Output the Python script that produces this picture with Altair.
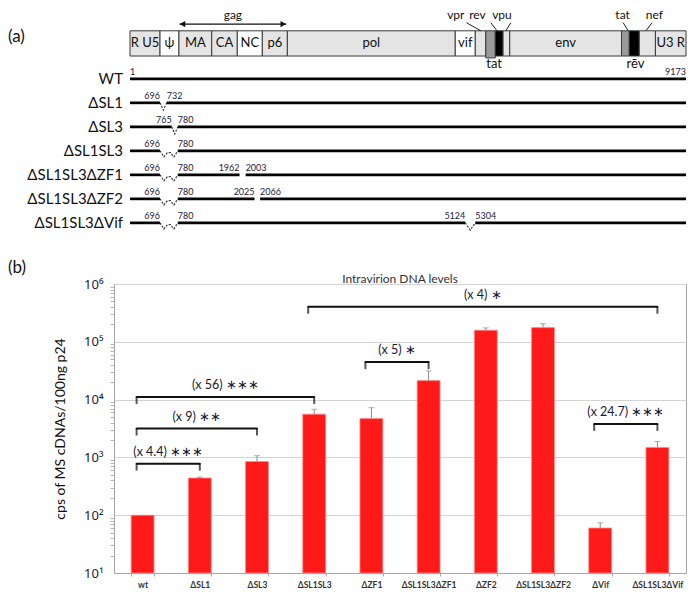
import altair as alt
import pandas as pd

# ---------------- panel (a): genome map (schematic map units 0-100) ----------------
segment_labels = ["R U5", "ψ", "MA", "CA", "NC", "p6", "pol", "vif", "", "", "", "", "env", "", "", "", "U3 R"]
segment_kinds = ["light", "white", "light", "light", "white", "light", "light", "white",
                 "light", "tat", "rev", "light", "light", "tat", "rev", "light", "light"]
segment_edges = [0, 5.4, 8.8, 14.7, 19.3, 23.8, 28.3, 58.5, 62.1, 64.0, 65.7, 67.1, 68.3,
                 88.4, 89.8, 91.6, 94.5, 100]

gag_span = [8.9, 28.1]
gene_names = ["vpr", "rev", "vpu", "tat", "nef"]
gene_label_x = [58.6, 62.5, 66.9, 88.6, 94.3]
gene_leader_from = [60.5, 64.9, 68.5, 88.7, 93.9]
gene_leader_to = [63.1, 66.0, 67.6, 89.6, 92.8]
lower_names = ["tat", "rēv"]
lower_x = [65.5, 90.9]

constructs = ["WT", "ΔSL1", "ΔSL3", "ΔSL1SL3", "ΔSL1SL3ΔZF1", "ΔSL1SL3ΔZF2", "ΔSL1SL3ΔVif"]
genome_first_nt = "1"
genome_last_nt = "9173"
del_construct = ["ΔSL1", "ΔSL3", "ΔSL1SL3", "ΔSL1SL3ΔZF1", "ΔSL1SL3ΔZF1",
                 "ΔSL1SL3ΔZF2", "ΔSL1SL3ΔZF2", "ΔSL1SL3ΔVif", "ΔSL1SL3ΔVif"]
del_start_nt = [696, 765, 696, 696, 1962, 696, 2025, 696, 5124]
del_end_nt = [732, 780, 780, 780, 2003, 780, 2066, 780, 5304]
del_start_map = [5.4, 7.5, 5.4, 5.4, 19.7, 5.4, 22.4, 5.4, 60.3]
del_end_map = [6.6, 8.6, 8.6, 8.6, 20.8, 8.6, 23.4, 8.6, 62.1]
del_shape = ["v", "v", "w", "w", "gap", "w", "gap", "w", "v"]

# ---------------- panel (b): intravirion DNA levels ----------------
categories = ["wt", "ΔSL1", "ΔSL3", "ΔSL1SL3", "ΔZF1", "ΔSL1SL3ΔZF1", "ΔZF2",
              "ΔSL1SL3ΔZF2", "ΔVif", "ΔSL1SL3ΔVif"]
dna_levels = [100, 440, 850, 5600, 4700, 21300, 159000, 176000, 60, 1490]
dna_upper = [100, 455, 1070, 6800, 7240, 31400, 174000, 205000, 74, 1880]

bracket_from = ["wt", "wt", "wt", "ΔZF1", "ΔSL1SL3", "ΔVif"]
bracket_to = ["ΔSL1", "ΔSL3", "ΔSL1SL3", "ΔSL1SL3ΔZF1", "ΔSL1SL3ΔVif", "ΔSL1SL3ΔVif"]
bracket_level = [780, 3160, 11100, 44500, 404000, 3800]
bracket_text = ["(x 4.4) ∗∗∗", "(x 9) ∗∗", "(x 56)   ∗∗∗", "(x 5) ∗", "(x 4) ∗", "(x 24.7) ∗∗∗"]

FONT = "Lato, 'Noto Sans', sans-serif"
W = 572
H_TOP = 224
H_BOT = 289
SPACING = 52

# ======================= panel (a) =======================
xs = alt.Scale(domain=[0, 100], range=[16, W], nice=False, zero=False)
ys = alt.Scale(domain=[-2.95, 6.38], reverse=True, nice=False, zero=False)
MAP_TOP, MAP_BOT = -2.0, -0.95

first_tat = segment_kinds.index("tat")
seg_df = pd.DataFrame({
    "start": segment_edges[:-1],
    "end": segment_edges[1:],
    "label": segment_labels,
    "kind": segment_kinds,
})
seg_df["mid"] = (seg_df["start"] + seg_df["end"]) / 2
seg_df["top"] = MAP_TOP
seg_df["bottom"] = [MAP_BOT + (0.08 if i == first_tat else 0) for i in range(len(seg_df))]
seg_df["ty"] = (MAP_TOP + MAP_BOT) / 2

boxes = alt.Chart(seg_df).mark_rect(stroke="#3a3a3a", strokeWidth=1).encode(
    x=alt.X("start:Q", scale=xs, axis=None),
    x2="end:Q",
    y=alt.Y("top:Q", scale=ys, axis=None),
    y2="bottom:Q",
    color=alt.Color("kind:N", scale=alt.Scale(domain=["light", "white", "tat", "rev"],
                                              range=["#e4e4e4", "#ffffff", "#9a9a9a", "#000000"]),
                    legend=None),
)
box_labels = alt.Chart(seg_df).mark_text(fontSize=13, color="#111").encode(
    x=alt.X("mid:Q", scale=xs, axis=None),
    y=alt.Y("ty:Q", scale=ys, axis=None),
    text="label:N",
)

gag_df = pd.DataFrame({"x1": [gag_span[0]], "x2": [gag_span[1]],
                       "mid": [(gag_span[0] + gag_span[1]) / 2], "ly": [-2.28], "ty": [-2.64],
                       "t": ["gag"]})
gag_text = alt.Chart(gag_df).mark_text(fontSize=12, color="#111").encode(
    x=alt.X("mid:Q", scale=xs, axis=None), y=alt.Y("ty:Q", scale=ys, axis=None), text="t:N")
gag_line = alt.Chart(gag_df).mark_rule(strokeWidth=1.3, color="#111").encode(
    x=alt.X("x1:Q", scale=xs, axis=None), x2="x2:Q", y=alt.Y("ly:Q", scale=ys, axis=None))
gag_head_l = alt.Chart(gag_df).mark_point(shape="triangle-left", filled=True, size=40,
                                          color="#111", opacity=1, xOffset=3).encode(
    x=alt.X("x1:Q", scale=xs, axis=None), y=alt.Y("ly:Q", scale=ys, axis=None))
gag_head_r = alt.Chart(gag_df).mark_point(shape="triangle-right", filled=True, size=40,
                                          color="#111", opacity=1, xOffset=-3).encode(
    x=alt.X("x2:Q", scale=xs, axis=None), y=alt.Y("ly:Q", scale=ys, axis=None))

gene_df = pd.DataFrame({"name": gene_names, "lx": gene_label_x, "x1": gene_leader_from,
                        "x2": gene_leader_to})
gene_df["ty"] = -2.64
gene_df["y1"] = -2.34
gene_df["y2"] = MAP_TOP
gene_text = alt.Chart(gene_df).mark_text(fontSize=12, color="#111").encode(
    x=alt.X("lx:Q", scale=xs, axis=None), y=alt.Y("ty:Q", scale=ys, axis=None), text="name:N")
gene_lead = alt.Chart(gene_df).mark_rule(strokeWidth=1, color="#222").encode(
    x=alt.X("x1:Q", scale=xs, axis=None), x2="x2:Q",
    y=alt.Y("y1:Q", scale=ys, axis=None), y2="y2:Q")

low_df = pd.DataFrame({"name": lower_names, "lx": lower_x})
low_df["ty"] = -0.62
low_text = alt.Chart(low_df).mark_text(fontSize=13, color="#111").encode(
    x=alt.X("lx:Q", scale=xs, axis=None), y=alt.Y("ty:Q", scale=ys, axis=None), text="name:N")

# construct lines
row_of = {c: i for i, c in enumerate(constructs)}
seg_rows = []
for c in constructs:
    dels = sorted([(s, e) for cc, s, e in zip(del_construct, del_start_map, del_end_map) if cc == c])
    cur = segment_edges[0]
    for s, e in dels:
        seg_rows.append({"row": row_of[c], "x1": cur, "x2": s})
        cur = e
    seg_rows.append({"row": row_of[c], "x1": cur, "x2": segment_edges[-1]})
line_df = pd.DataFrame(seg_rows)
row_lines = alt.Chart(line_df).mark_rule(strokeWidth=2.7, color="#000").encode(
    x=alt.X("x1:Q", scale=xs, axis=None), x2="x2:Q", y=alt.Y("row:Q", scale=ys, axis=None))

dip_rows = []
for k, (c, a, b, shp) in enumerate(zip(del_construct, del_start_map, del_end_map, del_shape)):
    r = row_of[c]
    w = b - a
    if shp == "v":
        pts = [(a, 0), (a + 0.5 * w, 0.3), (b, 0)]
    elif shp == "w":
        pts = [(a, 0), (a + 0.22 * w, 0.25), (a + 0.42 * w, 0.07), (a + 0.58 * w, 0.07),
               (a + 0.78 * w, 0.25), (b, 0)]
    else:
        pts = []
    for j, (px, py) in enumerate(pts):
        dip_rows.append({"id": k, "ord": j, "x": px, "y": r + py})
dip_df = pd.DataFrame(dip_rows)
dips = alt.Chart(dip_df).mark_line(strokeWidth=1.2, strokeDash=[2, 1.5], color="#333").encode(
    x=alt.X("x:Q", scale=xs, axis=None), y=alt.Y("y:Q", scale=ys, axis=None),
    detail="id:N", order="ord:Q")

nt_left = pd.DataFrame({"x": [segment_edges[0]] + del_end_map,
                        "row": [0] + [row_of[c] for c in del_construct],
                        "t": [genome_first_nt] + [str(v) for v in del_end_nt]})
nt_right = pd.DataFrame({"x": [segment_edges[-1]] + del_start_map,
                         "row": [0] + [row_of[c] for c in del_construct],
                         "t": [genome_last_nt] + [str(v) for v in del_start_nt]})
nt_l = alt.Chart(nt_left).mark_text(fontSize=9, align="left", baseline="bottom", dy=-2,
                                    color="#1a1a3a").encode(
    x=alt.X("x:Q", scale=xs, axis=None), y=alt.Y("row:Q", scale=ys, axis=None), text="t:N")
nt_r = alt.Chart(nt_right).mark_text(fontSize=9, align="right", baseline="bottom", dy=-2,
                                     color="#1a1a3a").encode(
    x=alt.X("x:Q", scale=xs, axis=None), y=alt.Y("row:Q", scale=ys, axis=None), text="t:N")

rlab_df = pd.DataFrame({"name": constructs, "row": list(range(len(constructs)))})
rlab_df["x"] = segment_edges[0]
row_labels = alt.Chart(rlab_df).mark_text(fontSize=15, align="right", dx=-7, color="#111").encode(
    x=alt.X("x:Q", scale=xs, axis=None), y=alt.Y("row:Q", scale=ys, axis=None), text="name:N")

panel_labels = alt.Chart(pd.DataFrame({"t": ["(a)", "(b)"], "py": [29, H_TOP + SPACING - 16]})).mark_text(
    fontSize=17, align="left", baseline="middle", color="#111").encode(
    text="t:N", x=alt.value(-106), y=alt.Y("py:Q", scale=alt.Scale(domain=[0, H_TOP], range=[0, H_TOP]), axis=None))

top = alt.layer(boxes, box_labels, gag_line, gag_head_l, gag_head_r, gag_text, gene_lead,
                gene_text, low_text, row_lines, dips, nt_l, nt_r, row_labels).properties(
    width=W, height=H_TOP, view=alt.ViewBackground(strokeOpacity=0))
top = alt.layer(top, panel_labels).resolve_scale(y="independent")

# ======================= panel (b) =======================
bar_df = pd.DataFrame({"category": categories, "level": dna_levels, "upper": dna_upper})

band = alt.Scale(domain=categories, paddingInner=0.6, paddingOuter=0.3)
ylog = alt.Scale(type="log", domain=[10, 1000000], nice=False)

tick_values = [m * 10 ** e for e in range(1, 6) for m in range(1, 10)] + [1000000]
dec = "abs(log(datum.value)/LN10 - round(log(datum.value)/LN10)) < 0.01"
y_axis = alt.Axis(
    title="cps of MS cDNAs/100ng p24", titleFontSize=14, titleFontWeight="normal",
    titleColor="#111", titlePadding=16,
    values=tick_values, labelOverlap=False,
    labelExpr=dec + " ? '10' + ['⁰','¹','²','³','⁴','⁵','⁶'][round(log(datum.value)/LN10)] : ''",
    labelFont="Noto Sans", labelFontSize=13, labelColor="#1a1a3a", labelPadding=7,
    tickSize=4, tickColor="#b4b4b4", tickWidth=1,
    tickOpacity={"condition": {"test": dec, "value": 0}, "value": 1},
    grid=True, gridColor="#d4d4d4", gridWidth=1,
    gridOpacity={"condition": {"test": dec, "value": 1}, "value": 0},
    domainColor="#a6a6a6",
)
x_axis = alt.Axis(
    title=None, labelAngle=0, labelFontSize=8.5, labelFontWeight="bold", labelColor="#333",
    labelPadding=4, tickBand="extent", tickSize=3, tickColor="#a6a6a6", domainColor="#a6a6a6",
    grid=False,
)

bars = alt.Chart(bar_df).mark_bar(color="#FF1A1A", stroke="#FF8A8A", strokeWidth=0.8).encode(
    x=alt.X("category:N", sort=categories, scale=band, axis=x_axis),
    y=alt.Y("level:Q", scale=ylog, axis=y_axis),
    y2=alt.datum(10),
)
err = alt.Chart(bar_df).transform_filter("datum.upper > datum.level").mark_rule(
    color="#8c8c8c", strokeWidth=1).encode(
    x=alt.X("category:N", sort=categories, scale=band, axis=None),
    y=alt.Y("level:Q", scale=ylog),
    y2="upper:Q",
)
caps = alt.Chart(bar_df).transform_filter("datum.upper > datum.level").mark_tick(
    orient="horizontal", size=6, thickness=1, color="#8c8c8c").encode(
    x=alt.X("category:N", sort=categories, scale=band, axis=None),
    y=alt.Y("upper:Q", scale=ylog),
)

idx = {c: i for i, c in enumerate(categories)}
br_df = pd.DataFrame({"f": [idx[c] for c in bracket_from], "t": [idx[c] for c in bracket_to],
                      "level": bracket_level, "text": bracket_text})
br_df["mid"] = (br_df["f"] + br_df["t"]) / 2
xq = alt.Scale(domain=[-0.5, len(categories) - 0.5], nice=False, zero=False)

br_rule = alt.Chart(br_df).mark_rule(strokeWidth=2, color="#111", xOffset=-6, strokeCap="round").encode(
    x=alt.X("f:Q", scale=xq, axis=None), x2="t:Q",
    y=alt.Y("level:Q", scale=ylog))
br_left = alt.Chart(br_df).mark_tick(orient="vertical", size=7, thickness=2, yOffset=3.5,
                                     xOffset=-6, color="#111").encode(
    x=alt.X("f:Q", scale=xq, axis=None), y=alt.Y("level:Q", scale=ylog))
br_right = alt.Chart(br_df).mark_tick(orient="vertical", size=7, thickness=2, yOffset=3.5,
                                      color="#111").encode(
    x=alt.X("t:Q", scale=xq, axis=None), y=alt.Y("level:Q", scale=ylog))
br_text = alt.Chart(br_df).mark_text(baseline="bottom", dy=-5, dx=-3, fontSize=12.5,
                                     color="#1a1a2e").encode(
    x=alt.X("mid:Q", scale=xq, axis=None), y=alt.Y("level:Q", scale=ylog),
    text="text:N")

bottom = alt.layer(
    bars, err, caps, br_rule, br_left, br_right, br_text
).resolve_scale(x="independent").properties(
    width=W, height=H_BOT,
    title=alt.TitleParams("Intravirion DNA levels", fontSize=12, fontWeight="normal",
                          color="#333", offset=-8, anchor="middle", frame="group"),
    view=alt.ViewBackground(stroke="#a6a6a6", strokeWidth=1),
)

chart = alt.vconcat(top, bottom, spacing=SPACING, bounds="flush").properties(padding=0).configure(
    font=FONT)

chart.save("out.html", embed_options={"renderer": "svg", "actions": False})
